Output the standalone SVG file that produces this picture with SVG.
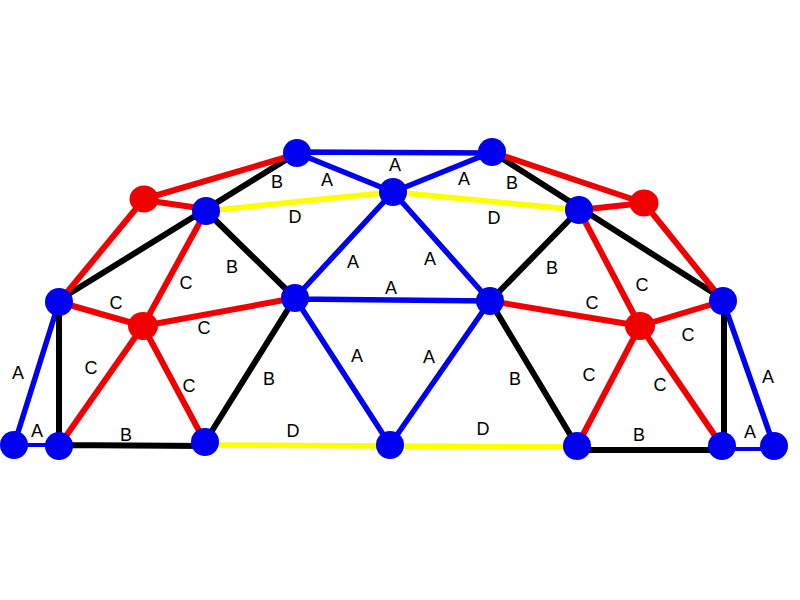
<svg xmlns="http://www.w3.org/2000/svg" width="800" height="600" viewBox="0 0 800 600">
<style>
.e{fill:none;stroke-width:6;stroke-linecap:round}
.a{stroke:#0000f0;stroke-width:5.5}.t{stroke-width:4}.b{stroke:#000}.c{stroke:#f00000}.d{stroke:#ffff00;stroke-width:5.5}
.n{fill:#0000f0}.r{fill:#f00000}
text{font-family:"Liberation Sans",Arial,sans-serif;font-size:18px;fill:#000;text-anchor:middle}
</style>
<rect width="800" height="600" fill="#fff"/>
<g id="connectors">
<path class="e a" d="M297 152L492 153M297 153L393 192M492 152L393 192M393 192L295 298M393 192L490 301M295 299L490 301M295 298L390 445M490 301L390 445M59 302L14 445M723 301L774 446"/>
<path class="e a t" d="M14 445L59 445M722 449L774 449"/>
<path class="e b" d="M297 153L59 300M206 211L295 298M295 298L205 442M59 302L59 446M59 445L205 446M492 152L723 299M579 210L490 301M490 301L577 446M724 301L724 446M577 450L722 450"/>
<path class="e c" d="M297 154L144 199M144 200L206 209M144 199L59 302M206 211L143 326M59 302L143 326M143 326L295 298M143 326L59 446M143 326L205 442M492 152L644 203M579 210L644 203M644 203L723 301M579 210L640 326M490 301L640 326M640 326L723 301M640 326L577 446M640 326L722 446"/>
<path class="e d" d="M206 211L393 192M393 192L579 210M205 445L390 446M390 446L577 447"/>
</g>
<g id="n1"><circle class="n" cx="297" cy="153" r="14"/></g>
<g id="n2"><circle class="n" cx="492" cy="152" r="14"/></g>
<g id="n3"><circle class="n" cx="393" cy="192" r="14"/></g>
<g id="n4"><ellipse class="r" cx="144" cy="199" rx="14.5" ry="13.5"/></g>
<g id="n5"><circle class="n" cx="206" cy="211" r="14"/></g>
<g id="n6"><circle class="n" cx="579" cy="210" r="14"/></g>
<g id="n7"><ellipse class="r" cx="644" cy="203" rx="14.5" ry="13.5"/></g>
<g id="n8"><circle class="n" cx="59" cy="302" r="14"/></g>
<g id="n9"><ellipse class="r" cx="143" cy="326" rx="15" ry="14"/></g>
<g id="n10"><circle class="n" cx="295" cy="298" r="14"/></g>
<g id="n11"><circle class="n" cx="490" cy="301" r="14"/></g>
<g id="n12"><ellipse class="r" cx="640" cy="326" rx="15" ry="14"/></g>
<g id="n13"><circle class="n" cx="723" cy="301" r="14"/></g>
<g id="n14"><circle class="n" cx="14" cy="445" r="14"/></g>
<g id="n15"><circle class="n" cx="59" cy="446" r="14"/></g>
<g id="n16"><circle class="n" cx="205" cy="442" r="14"/></g>
<g id="n17"><circle class="n" cx="390" cy="445" r="14"/></g>
<g id="n18"><circle class="n" cx="577" cy="446" r="14"/></g>
<g id="n19"><circle class="n" cx="722" cy="446" r="14"/></g>
<g id="n20"><circle class="n" cx="774" cy="446" r="14"/></g>
<g id="labels">
<text x="395" y="171">A</text><text x="327" y="186">A</text><text x="464" y="185">A</text>
<text x="277" y="188">B</text><text x="512" y="189">B</text>
<text x="295" y="223">D</text><text x="494" y="224">D</text>
<text x="186" y="289">C</text><text x="642" y="291">C</text>
<text x="232" y="273">B</text><text x="552" y="274">B</text>
<text x="353" y="268">A</text><text x="430" y="265">A</text><text x="391" y="294">A</text>
<text x="116" y="309">C</text><text x="592" y="309">C</text>
<text x="204" y="334">C</text><text x="688" y="341">C</text>
<text x="91" y="374">C</text><text x="189" y="392">C</text><text x="589" y="381">C</text><text x="660" y="391">C</text>
<text x="269" y="385">B</text><text x="515" y="385">B</text>
<text x="357" y="362">A</text><text x="429" y="363">A</text>
<text x="18" y="379">A</text><text x="768" y="383">A</text>
<text x="37" y="437">A</text><text x="750" y="438">A</text>
<text x="126" y="441">B</text><text x="639" y="441">B</text>
<text x="293" y="437">D</text><text x="483" y="435">D</text>
</g>
</svg>
